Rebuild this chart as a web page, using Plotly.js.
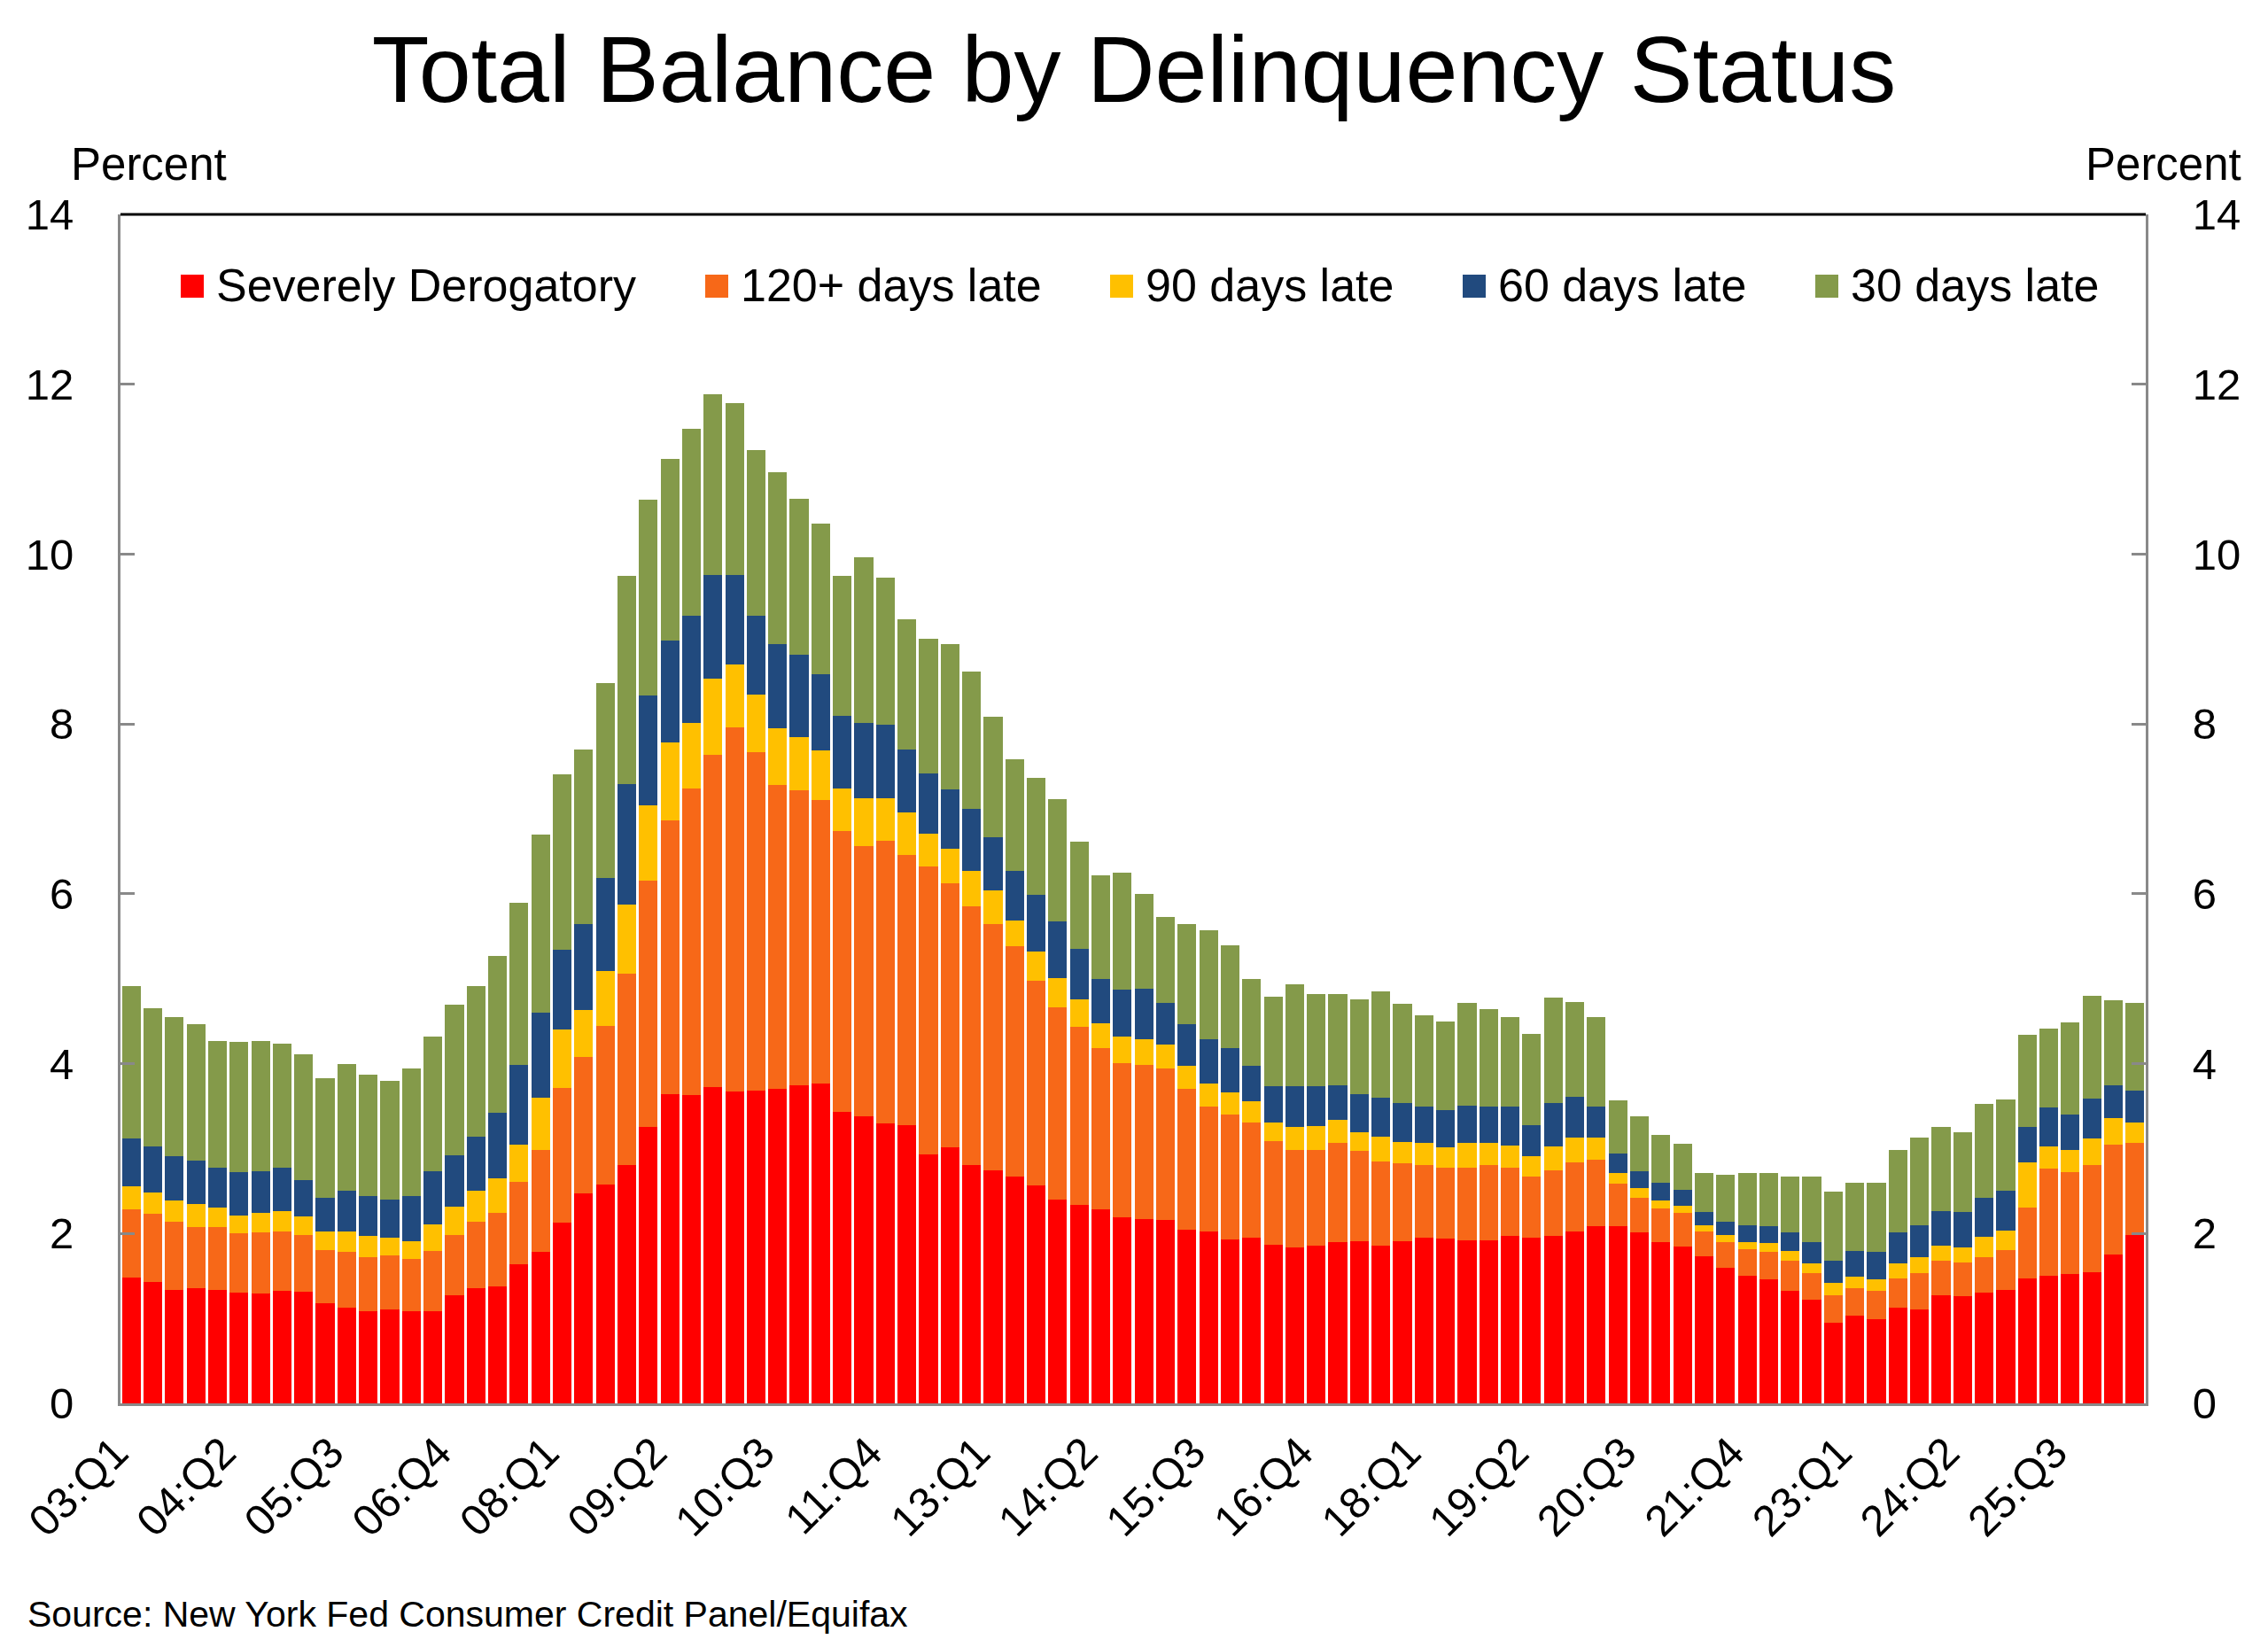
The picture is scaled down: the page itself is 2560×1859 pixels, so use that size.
<!DOCTYPE html>
<html>
<head>
<meta charset="utf-8">
<script src="https://cdn.plot.ly/plotly-3.0.1.min.js"></script>
<style>
  html, body { margin: 0; padding: 0; background: #fff; }
  #chart { width: 2560px; height: 1859px; }
</style>
</head>
<body>
<div id="chart"></div>
<script>
// quarters 03:Q1 .. 26:Q2 (one bar each)
var categories = [];
for (var yr = 3; yr <= 26; yr++) {
  for (var q = 1; q <= 4; q++) {
    if (categories.length < 94) categories.push((yr < 10 ? "0" : "") + yr + ":Q" + q);
  }
}

var tickLabels = ["03:Q1", "04:Q2", "05:Q3", "06:Q4", "08:Q1", "09:Q2", "10:Q3",
  "11:Q4", "13:Q1", "14:Q2", "15:Q3", "16:Q4", "18:Q1", "19:Q2", "20:Q3",
  "21:Q4", "23:Q1", "24:Q2", "25:Q3"];

var seriesNames = ["Severely Derogatory", "120+ days late", "90 days late",
  "60 days late", "30 days late"];

// percent of balance, segment thickness per quarter
var severe = [
  1.48, 1.43, 1.34, 1.36, 1.34, 1.30, 1.29, 1.32, 1.31, 1.18,
  1.13, 1.09, 1.11, 1.09, 1.09, 1.27, 1.36, 1.38, 1.64, 1.78,
  2.13, 2.47, 2.58, 2.81, 3.26, 3.64, 3.63, 3.72, 3.67, 3.68,
  3.70, 3.74, 3.77, 3.43, 3.38, 3.30, 3.28, 2.93, 3.01, 2.81,
  2.74, 2.67, 2.57, 2.40, 2.34, 2.28, 2.19, 2.17, 2.16, 2.04,
  2.02, 1.93, 1.95, 1.87, 1.84, 1.86, 1.90, 1.91, 1.86, 1.91,
  1.95, 1.94, 1.92, 1.92, 1.97, 1.95, 1.97, 2.02, 2.09, 2.09,
  2.01, 1.90, 1.85, 1.73, 1.60, 1.50, 1.46, 1.32, 1.22, 0.95,
  1.03, 0.99, 1.13, 1.11, 1.27, 1.26, 1.30, 1.34, 1.47, 1.50,
  1.52, 1.54, 1.75, 1.98
];
var late120 = [
  0.80, 0.80, 0.80, 0.72, 0.74, 0.70, 0.72, 0.70, 0.67, 0.62,
  0.65, 0.63, 0.63, 0.61, 0.70, 0.71, 0.78, 0.86, 0.97, 1.20,
  1.58, 1.61, 1.86, 2.25, 2.90, 3.22, 3.61, 3.92, 4.29, 3.99,
  3.58, 3.48, 3.33, 3.31, 3.18, 3.32, 3.18, 3.39, 3.11, 3.04,
  2.90, 2.71, 2.41, 2.26, 2.09, 1.90, 1.82, 1.82, 1.78, 1.66,
  1.47, 1.47, 1.36, 1.22, 1.14, 1.12, 1.17, 1.06, 0.99, 0.92,
  0.86, 0.84, 0.86, 0.89, 0.81, 0.72, 0.77, 0.82, 0.78, 0.50,
  0.41, 0.39, 0.39, 0.29, 0.30, 0.32, 0.32, 0.36, 0.31, 0.32,
  0.33, 0.33, 0.34, 0.42, 0.41, 0.40, 0.42, 0.47, 0.84, 1.26,
  1.20, 1.27, 1.30, 1.09
];
var late90 = [
  0.28, 0.25, 0.25, 0.27, 0.23, 0.21, 0.23, 0.24, 0.22, 0.22,
  0.24, 0.25, 0.21, 0.21, 0.32, 0.34, 0.36, 0.41, 0.44, 0.62,
  0.69, 0.55, 0.65, 0.81, 0.88, 0.92, 0.77, 0.89, 0.74, 0.68,
  0.67, 0.62, 0.59, 0.50, 0.57, 0.51, 0.50, 0.39, 0.41, 0.42,
  0.40, 0.31, 0.34, 0.35, 0.33, 0.30, 0.31, 0.30, 0.28, 0.27,
  0.28, 0.26, 0.25, 0.22, 0.27, 0.29, 0.27, 0.22, 0.29, 0.25,
  0.26, 0.24, 0.29, 0.26, 0.26, 0.24, 0.29, 0.29, 0.26, 0.12,
  0.11, 0.10, 0.09, 0.08, 0.08, 0.08, 0.11, 0.11, 0.12, 0.15,
  0.13, 0.14, 0.18, 0.19, 0.18, 0.18, 0.24, 0.22, 0.53, 0.27,
  0.26, 0.31, 0.31, 0.24
];
var late60 = [
  0.56, 0.55, 0.52, 0.51, 0.47, 0.51, 0.49, 0.52, 0.43, 0.40,
  0.48, 0.47, 0.45, 0.53, 0.62, 0.60, 0.64, 0.77, 0.93, 1.00,
  0.94, 1.01, 1.10, 1.42, 1.30, 1.20, 1.26, 1.22, 1.05, 0.92,
  0.99, 0.98, 0.90, 0.86, 0.88, 0.86, 0.74, 0.71, 0.70, 0.73,
  0.63, 0.58, 0.67, 0.67, 0.59, 0.52, 0.55, 0.59, 0.50, 0.50,
  0.52, 0.52, 0.41, 0.42, 0.48, 0.46, 0.41, 0.45, 0.46, 0.46,
  0.43, 0.43, 0.44, 0.42, 0.45, 0.37, 0.51, 0.48, 0.36, 0.23,
  0.20, 0.21, 0.18, 0.15, 0.16, 0.20, 0.20, 0.22, 0.25, 0.26,
  0.30, 0.32, 0.36, 0.38, 0.40, 0.41, 0.46, 0.47, 0.41, 0.45,
  0.42, 0.47, 0.38, 0.37
];
var late30 = [
  1.79, 1.62, 1.64, 1.60, 1.49, 1.54, 1.54, 1.46, 1.48, 1.41,
  1.50, 1.43, 1.40, 1.50, 1.59, 1.77, 1.77, 1.85, 1.91, 2.10,
  2.07, 2.06, 2.29, 2.45, 2.30, 2.14, 2.21, 2.13, 2.03, 1.95,
  2.02, 1.83, 1.77, 1.64, 1.95, 1.73, 1.53, 1.58, 1.71, 1.62,
  1.42, 1.31, 1.38, 1.43, 1.26, 1.22, 1.38, 1.12, 1.01, 1.17,
  1.28, 1.21, 1.03, 1.06, 1.20, 1.09, 1.07, 1.12, 1.25, 1.16,
  1.07, 1.05, 1.21, 1.15, 1.06, 1.07, 1.24, 1.12, 1.06, 0.63,
  0.65, 0.56, 0.55, 0.46, 0.55, 0.61, 0.62, 0.66, 0.77, 0.81,
  0.81, 0.82, 0.97, 1.03, 0.99, 0.94, 1.11, 1.08, 1.09, 0.93,
  1.09, 1.21, 1.01, 1.04
];

var colors = ["#FF0000", "#F76818", "#FFC000", "#214A7E", "#849A4A"];
var FONT = "Liberation Sans, Arial, Helvetica, sans-serif";
var axisGray = "#898989";

// plot box in page pixels, used to place the decorations
var box = { l: 136, r: 2422, t: 242, b: 1584 };
var fx = function (px) { return (px - box.l) / (box.r - box.l); };
var fy = function (py) { return (box.b - py) / (box.b - box.t); };

var seriesValues = [severe, late120, late90, late60, late30];
var data = seriesValues.map(function (vals, i) {
  return {
    type: "bar",
    name: seriesNames[i],
    x: categories,
    y: vals,
    marker: { color: colors[i], line: { width: 0 } },
    showlegend: false,
    hoverinfo: "skip"
  };
});
// carrier for the right-hand axis
data.push({
  type: "scatter", mode: "markers", x: [categories[0]], y: [null],
  yaxis: "y2", showlegend: false, hoverinfo: "skip"
});

// legend drawn by hand: square swatch + label
var legendSwatchX = [204, 796, 1253, 1651, 2049];
var legendShapes = [];
var legendNotes = [];
seriesNames.forEach(function (nm, i) {
  legendShapes.push({
    type: "rect", xref: "paper", yref: "paper",
    x0: fx(legendSwatchX[i]), x1: fx(legendSwatchX[i] + 26),
    y0: fy(336), y1: fy(310),
    fillcolor: colors[i], line: { width: 0 }
  });
  legendNotes.push({
    xref: "paper", yref: "paper", x: fx(legendSwatchX[i] + 38), y: fy(322),
    xanchor: "left", yanchor: "middle", showarrow: false, text: nm,
    font: { family: FONT, size: 52, color: "#000" }
  });
});

var yTicks = {
  range: [0, 14], dtick: 2, tick0: 0, ticks: "inside", ticklen: 16, tickwidth: 3,
  tickcolor: axisGray, showline: true, linecolor: axisGray, linewidth: 3,
  showgrid: false, zeroline: false, ticklabelstandoff: 40,
  tickfont: { family: FONT, size: 49, color: "#000" }, fixedrange: true
};

var layout = {
  width: 2560,
  height: 1859,
  margin: { l: box.l, r: 2560 - box.r, t: box.t, b: 1859 - box.b, pad: 0 },
  paper_bgcolor: "#fff",
  plot_bgcolor: "#fff",
  barmode: "stack",
  bargap: 0.13,
  hovermode: false,
  showlegend: false,
  title: {
    text: "Total Balance by Delinquency Status",
    font: { family: FONT, size: 106, color: "#000" },
    xref: "container", x: 0.5, xanchor: "center",
    yref: "container", y: 1 - 78 / 1859, yanchor: "middle"
  },
  xaxis: {
    type: "category",
    range: [-0.5, categories.length - 0.5],
    tickmode: "array", tickvals: tickLabels, ticktext: tickLabels,
    tickangle: -45, ticks: "", showgrid: false, zeroline: false,
    showline: true, linecolor: axisGray, linewidth: 3,
    ticklabelstandoff: 4, ticklabelshift: -18,
    tickfont: { family: FONT, size: 49, color: "#000" }, fixedrange: true
  },
  yaxis: Object.assign({}, yTicks, { side: "left" }),
  yaxis2: Object.assign({}, yTicks, { side: "right", overlaying: "y" }),
  shapes: [{
    type: "line", xref: "paper", yref: "paper", x0: 0, x1: 1, y0: 1, y1: 1,
    line: { color: "#000", width: 3 }
  }].concat(legendShapes),
  annotations: [
    { xref: "paper", yref: "paper", x: fx(78), y: fy(186), xanchor: "left", yanchor: "middle",
      showarrow: false, text: "Percent", font: { family: FONT, size: 51, color: "#000" } },
    { xref: "paper", yref: "paper", x: fx(2532), y: fy(186), xanchor: "right", yanchor: "middle",
      showarrow: false, text: "Percent", font: { family: FONT, size: 51, color: "#000" } },
    { xref: "paper", yref: "paper", x: fx(29), y: fy(1822), xanchor: "left", yanchor: "middle",
      showarrow: false, text: "Source: New York Fed Consumer Credit Panel/Equifax",
      font: { family: FONT, size: 41, color: "#000" } }
  ].concat(legendNotes)
};

Plotly.newPlot("chart", data, layout, { staticPlot: true, displayModeBar: false });
</script>
</body>
</html>
